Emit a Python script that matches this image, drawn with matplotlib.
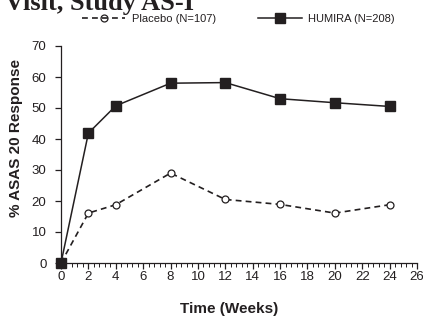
import matplotlib
matplotlib.use("Agg")
import matplotlib.pyplot as plt
from matplotlib.lines import Line2D
from matplotlib.ticker import MultipleLocator

# Data
weeks = [0, 2, 4, 8, 12, 16, 20, 24]
humira = [0, 41.9, 50.7, 58.0, 58.2, 53.0, 51.7, 50.5]
placebo = [0, 16.1, 18.8, 29.0, 20.5, 18.9, 16.1, 18.8]

labels = ["Placebo (N=107)", "HUMIRA (N=208)"]
title = "Visit, Study AS-I"
ink = "#231f20"

plt.rcParams['font.family'] = ['Liberation Sans', 'DejaVu Sans']

fig = plt.figure(figsize=(4.23, 3.16), dpi=100)
ax = fig.add_axes([61 / 423, 53 / 316, 356 / 423, 217 / 316])

# Placebo: dashed line, open circles
ax.plot(weeks, placebo, color=ink, lw=1.2, ls=(0, (3.5, 2.5)),
        marker='o', ms=5, mfc='white', mec=ink, mew=0.9, clip_on=False, zorder=3)
# HUMIRA: solid line, filled squares
ax.plot(weeks, humira, color=ink, lw=1.1, marker='s', ms=7,
        mfc=ink, mec=ink, clip_on=False, zorder=4)

ax.set_xlim(0, 26)
ax.set_ylim(0, 70)
ax.set_xticks(range(0, 27, 2))
ax.set_yticks(range(0, 71, 10))
ax.xaxis.set_minor_locator(MultipleLocator(0.4))

for s in ['top', 'right']:
    ax.spines[s].set_visible(False)
for s in ['left', 'bottom']:
    ax.spines[s].set_color(ink)
    ax.spines[s].set_linewidth(0.9)

ax.tick_params(axis='y', direction='out', length=4.5, width=0.9, pad=6,
               labelsize=9.5, colors=ink)
ax.tick_params(axis='x', which='major', direction='out', length=4, width=0.9,
               pad=1.5, labelsize=9.5, colors=ink)
ax.tick_params(axis='x', which='minor', direction='out', length=3, width=0.7,
               colors=ink)

ax.set_ylabel("% ASAS 20 Response", fontsize=11, fontweight='bold', color=ink)
ax.set_xlabel("Time (Weeks)", fontsize=11, fontweight='bold', color=ink)
ax.yaxis.set_label_coords(-0.107, 0.578)
ax.xaxis.set_label_coords(0.472, -0.182)

# Legend across the top
handles = [
    Line2D([], [], color=ink, lw=1.2, ls=(0, (3.5, 2.5)), marker='o', ms=5,
           mfc='none', mec=ink, mew=0.9),
    Line2D([], [], color=ink, lw=1.1, marker='s', ms=7, mfc=ink, mec=ink),
]
fig.legend(handles, labels, loc='center left', bbox_to_anchor=(82 / 423, 1 - 19 / 316),
           ncol=2, frameon=False, fontsize=8, handlelength=3.9,
           handletextpad=0.6, columnspacing=3.8, borderpad=0, borderaxespad=0,
           labelcolor=ink)

# Title, cut off at the top as in the source
fig.text(5 / 423, 1 - 10 / 316, title, family='Liberation Serif',
         fontweight='bold', fontsize=19, color=ink, va='baseline', ha='left')

fig.savefig("out.png", dpi=100)
